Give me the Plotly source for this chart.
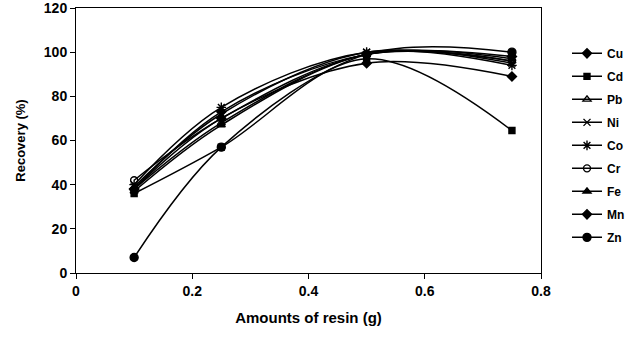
import plotly.graph_objects as go

x_vals = [0.1, 0.25, 0.5, 0.75]
names = ["Cu", "Cd", "Pb", "Ni", "Co", "Cr", "Fe", "Mn", "Zn"]
cu = [38, 70, 95, 89]
cd = [36, 57, 97, 64.5]
pb = [38, 68, 99, 96]
ni = [39, 72, 100, 95]
co = [40, 75, 100, 94]
cr = [42, 70, 99, 96]
fe = [37, 67, 99, 97]
mn = [38, 73, 99, 98]
zn = [7, 57, 99, 100]
series = [cu, cd, pb, ni, co, cr, fe, mn, zn]
symbols = ["diamond", "square", "triangle-up-open", "x-thin-open", "asterisk-open",
           "circle-open", "triangle-up", "diamond", "circle"]
sizes = [7, 6, 7, 7, 8, 7, 7, 7, 8]

fig = go.Figure()
for n, ys, sym, sz in zip(names, series, symbols, sizes):
    fig.add_trace(go.Scatter(
        x=x_vals, y=ys, name=n, mode="lines+markers", legendgroup=n,
        line=dict(color="black", width=1.5, shape="spline", smoothing=1.0),
        marker=dict(symbol=sym, size=sz, color="black",
                    line=dict(color="black", width=1.4)),
    ))

font_family = "Liberation Sans, Arial, sans-serif"
fig.update_layout(
    width=630, height=338,
    margin=dict(l=76, r=89, t=8, b=65),
    paper_bgcolor="white", plot_bgcolor="white",
    font=dict(family=font_family, color="black", size=12),
    showlegend=True,
    legend=dict(xref="container", yref="container", x=0.9, y=0.885,
                xanchor="left", yanchor="top", maxheight=330,
                font=dict(size=12, family=font_family, weight="bold"),
                tracegroupgap=4, itemwidth=30, bgcolor="rgba(0,0,0,0)"),
    xaxis=dict(range=[0, 0.8], tickvals=[0, 0.2, 0.4, 0.6, 0.8],
               ticktext=["0", "0.2", "0.4", "0.6", "0.8"],
               showline=True, linecolor="black", linewidth=1, mirror=True,
               ticks="outside", ticklen=5, tickcolor="black", showgrid=False,
               zeroline=False, automargin=False, ticklabeloverflow="allow",
               tickfont=dict(size=14, weight="bold"),
               title=dict(text="Amounts of resin (g)", standoff=14,
                          font=dict(size=15, weight="bold"))),
    yaxis=dict(range=[0, 120], tickvals=[0, 20, 40, 60, 80, 100, 120],
               showline=True, linecolor="black", linewidth=1, mirror=True,
               ticks="outside", ticklen=5, tickcolor="black", showgrid=False,
               zeroline=False, automargin=False, ticklabeloverflow="allow",
               tickfont=dict(size=14, weight="bold"),
               title=dict(text="Recovery (%)", standoff=15,
                          font=dict(size=13, weight="bold"))),
)

fig.write_html("out.html")
